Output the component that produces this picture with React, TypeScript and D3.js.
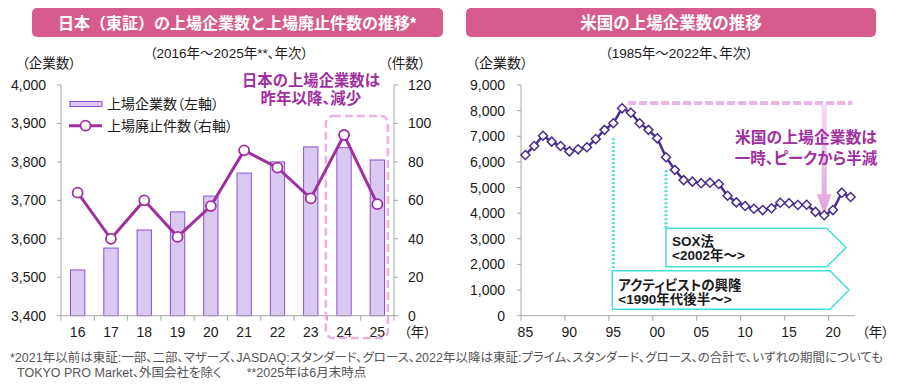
import React from 'react';
import * as d3 from 'd3';

// ---------- DATA ----------
const jpYears = ['16', '17', '18', '19', '20', '21', '22', '23', '24', '25'];
const jpListed = [3519, 3576, 3623, 3670, 3711, 3771, 3800, 3839, 3837, 3805];
const jpDelisted = [64, 40, 60, 41, 57, 86, 77, 61, 94, 58];
const jpLeftTicks = [3400, 3500, 3600, 3700, 3800, 3900, 4000];
const jpRightTicks = [0, 20, 40, 60, 80, 100, 120];

const usYears = [
  1985, 1986, 1987, 1988, 1989, 1990, 1991, 1992, 1993, 1994,
  1995, 1996, 1997, 1998, 1999, 2000, 2001, 2002, 2003, 2004,
  2005, 2006, 2007, 2008, 2009, 2010, 2011, 2012, 2013, 2014,
  2015, 2016, 2017, 2018, 2019, 2020, 2021, 2022,
];
const usListed = [
  6270, 6620, 7020, 6790, 6620, 6410, 6490, 6570, 6890, 7250,
  7510, 8090, 7920, 7510, 7250, 6920, 6180, 5690, 5290, 5230,
  5170, 5190, 5140, 4680, 4420, 4280, 4170, 4120, 4190, 4410,
  4390, 4320, 4330, 4050, 3920, 4120, 4800, 4630,
];
const usTicks = [0, 1000, 2000, 3000, 4000, 5000, 6000, 7000, 8000, 9000];
const usXLabelYears = [1985, 1990, 1995, 2000, 2005, 2010, 2015, 2020];

// ---------- STYLE ----------
const FONT = "'Liberation Sans', 'Noto Sans CJK JP', sans-serif";
const PINK = '#d75b8d';
const MAGENTA = '#a0309f';
const AXIS = '#a6a6a6';
const BAR_FILL = '#d9c9f1';
const BAR_STROKE = '#8c50d8';
const US_LINE = '#4b2d8c';
const CYAN = '#45e0d6';
const TXT = '#1a1a1a';
const PALT: React.CSSProperties = { fontFeatureSettings: '"palt"' };

const fmt = d3.format(',');

function LeftChart() {
  const x0 = 61, x1 = 394, yTop = 85, yBot = 315.7;
  const x = d3.scaleBand<string>().domain(jpYears).range([x0, x1]).paddingInner(0.57).paddingOuter(0.285);
  const yl = d3.scaleLinear().domain([3400, 4000]).range([yBot, yTop]);
  const yr = d3.scaleLinear().domain([0, 120]).range([yBot, yTop]);
  const cx = (i: number) => (x(jpYears[i]) as number) + x.bandwidth() / 2;
  const line = d3.line<number>().x((_, i) => cx(i)).y((d) => yr(d));
  const step = x.step();
  return (
    <g>
      <rect x={32} y={8} width={411} height={29} rx={5} fill={PINK} />
      <text x={237} y={23} textAnchor="middle" dominantBaseline="central" fill="#fff" fontWeight="bold" fontSize={16}>
        日本（東証）の上場企業数と上場廃止件数の推移*
      </text>
      <text x={229} y={53} textAnchor="middle" dominantBaseline="central" fontSize={13.5} fill={TXT} style={PALT}>
        （2016年～2025年**、年次）
      </text>
      <text x={22} y={63} dominantBaseline="central" fontSize={13.5} fill={TXT} style={PALT}>（企業数）</text>
      <text x={385} y={63} dominantBaseline="central" fontSize={13.5} fill={TXT} style={PALT}>（件数）</text>

      {/* bars */}
      {jpListed.map((v, i) => (
        <rect key={i} x={x(jpYears[i])} y={yl(v)} width={x.bandwidth()} height={yBot - yl(v)}
          fill={BAR_FILL} stroke={BAR_STROKE} strokeWidth={1} />
      ))}

      {/* axes */}
      <line x1={x0} x2={x0} y1={yTop} y2={yBot} stroke={AXIS} />
      <line x1={x1} x2={x1} y1={yTop} y2={yBot} stroke={AXIS} />
      <line x1={x0} x2={x1} y1={yBot} y2={yBot} stroke={AXIS} />
      {jpLeftTicks.map((t) => (
        <g key={t}>
          <line x1={x0 - 4} x2={x0} y1={yl(t)} y2={yl(t)} stroke={AXIS} />
          <text x={46} y={yl(t)} textAnchor="end" dominantBaseline="central" fontSize={14} fill={TXT}>{fmt(t)}</text>
        </g>
      ))}
      {jpRightTicks.map((t) => (
        <g key={t}>
          <line x1={x1} x2={x1 + 4} y1={yr(t)} y2={yr(t)} stroke={AXIS} />
          <text x={408} y={yr(t)} dominantBaseline="central" fontSize={14} fill={TXT}>{t}</text>
        </g>
      ))}
      {d3.range(jpYears.length + 1).map((i) => (
        <line key={i} x1={x0 + i * step} x2={x0 + i * step} y1={yBot} y2={yBot + 5} stroke={AXIS} />
      ))}
      {jpYears.map((yv, i) => (
        <text key={yv} x={cx(i)} y={332} textAnchor="middle" dominantBaseline="central" fontSize={14} fill={TXT}>{yv}</text>
      ))}
      <text x={404} y={332} dominantBaseline="central" fontSize={13.5} fill={TXT} style={PALT}>（年）</text>

      {/* dashed highlight box */}
      <rect x={(x('24') as number) - 11} y={116} width={62} height={222} rx={7}
        fill="none" stroke="#ebb2e1" strokeWidth={2.5} strokeDasharray="8,4" />

      {/* line */}
      <path d={line(jpDelisted) as string} fill="none" stroke={MAGENTA} strokeWidth={3} />
      {jpDelisted.map((v, i) => (
        <circle key={i} cx={cx(i)} cy={yr(v)} r={5} fill="#fff" stroke={MAGENTA} strokeWidth={1.8} />
      ))}

      {/* legend */}
      <rect x={70} y={101.5} width={32} height={5} fill={BAR_FILL} stroke={BAR_STROKE} strokeWidth={1} />
      <text x={107} y={104} dominantBaseline="central" fontSize={14} fill={TXT} style={PALT}>上場企業数（左軸）</text>
      <line x1={69} x2={102} y1={125.7} y2={125.7} stroke={MAGENTA} strokeWidth={3} />
      <circle cx={85.5} cy={125.7} r={5} fill="#fff" stroke={MAGENTA} strokeWidth={1.8} />
      <text x={107} y={125.7} dominantBaseline="central" fontSize={14} fill={TXT} style={PALT}>上場廃止件数（右軸）</text>

      {/* annotation */}
      <text x={311} y={80} textAnchor="middle" dominantBaseline="central" fontSize={15.5} fontWeight="bold" fill={MAGENTA} textLength={138} lengthAdjust="spacingAndGlyphs">日本の上場企業数は</text>
      <text x={311} y={98} textAnchor="middle" dominantBaseline="central" fontSize={15.5} fontWeight="bold" fill={MAGENTA} style={PALT}>昨年以降、減少</text>
    </g>
  );
}

function RightChart() {
  const x0 = 521, x1 = 855, yTop = 85, yBot = 315.7;
  const x = d3.scalePoint<number>().domain(usYears).range([x0, x1]).padding(0.5);
  const step = x.step();
  const y = d3.scaleLinear().domain([0, 9000]).range([yBot, yTop]);
  const line = d3.line<number>().x((_, i) => x(usYears[i]) as number).y((d) => y(d));
  const px = (yr: number) => x(yr) as number;
  const dashY = y(8300);
  const arrowX = px(2019);
  const tipY = y(usListed[usYears.indexOf(2019)]) - 1;
  const headTop = tipY - 20;
  const d = 4.5;
  const soxL = px(2001), actL = px(1995) - 1;
  return (
    <g>
      <defs>
        <linearGradient id="arrowGrad" x1="0" y1="0" x2="0" y2="1">
          <stop offset="0" stopColor="#f5daf2" />
          <stop offset="1" stopColor="#e2a3df" />
        </linearGradient>
      </defs>
      <rect x={466} y={8} width={410} height={29} rx={5} fill={PINK} />
      <text x={671} y={23} textAnchor="middle" dominantBaseline="central" fill="#fff" fontWeight="bold" fontSize={16.5}>
        米国の上場企業数の推移
      </text>
      <text x={679} y={53} textAnchor="middle" dominantBaseline="central" fontSize={13.5} fill={TXT} style={PALT}>
        （1985年～2022年、年次）
      </text>
      <text x={472} y={63} dominantBaseline="central" fontSize={14} fill={TXT} style={PALT}>（企業数）</text>

      {/* axes */}
      <line x1={x0} x2={x0} y1={yTop} y2={yBot} stroke={AXIS} />
      <line x1={x0} x2={x1} y1={yBot} y2={yBot} stroke={AXIS} />
      {usTicks.map((t) => (
        <g key={t}>
          <line x1={x0 - 4} x2={x0} y1={y(t)} y2={y(t)} stroke={AXIS} />
          <text x={505} y={y(t)} textAnchor="end" dominantBaseline="central" fontSize={14} fill={TXT}>{fmt(t)}</text>
        </g>
      ))}
      {d3.range(0, usYears.length, 5).map((i) => (
        <line key={i} x1={x0 + i * step} x2={x0 + i * step} y1={yBot} y2={yBot + 5} stroke={AXIS} />
      ))}
      {usXLabelYears.map((yv) => (
        <text key={yv} x={px(yv)} y={332} textAnchor="middle" dominantBaseline="central" fontSize={14} fill={TXT}>
          {String(yv % 100).padStart(2, '0')}
        </text>
      ))}
      <text x={862} y={332} dominantBaseline="central" fontSize={13.5} fill={TXT} style={PALT}>（年）</text>

      {/* cyan dotted guides */}
      <line x1={px(1995)} x2={px(1995)} y1={y(usListed[10]) + 15} y2={270.7} stroke={CYAN} strokeWidth={3} strokeDasharray="2,2" />
      <line x1={px(2001)} x2={px(2001)} y1={y(usListed[16]) + 13} y2={228.3} stroke={CYAN} strokeWidth={3} strokeDasharray="2,2" />

      {/* boxes */}
      <polygon points={`${soxL},228.3 826.7,228.3 846,247.5 826.7,266.7 ${soxL},266.7`} fill="#fff" stroke={CYAN} strokeWidth={1.5} />
      <text x={soxL + 6} y={241.7} dominantBaseline="central" fontSize={13.5} fontWeight="bold" fill={TXT}>SOX法</text>
      <text x={soxL + 6} y={255.7} dominantBaseline="central" fontSize={13.5} fontWeight="bold" fill={TXT}>&lt;2002年～&gt;</text>
      <polygon points={`${actL},270.7 830,270.7 849,290 830,309.3 ${actL},309.3`} fill="#fff" stroke={CYAN} strokeWidth={1.5} />
      <text x={actL + 6} y={285.7} dominantBaseline="central" fontSize={13.5} fontWeight="bold" fill={TXT} style={PALT}>アクティビストの興隆</text>
      <text x={actL + 6} y={299.3} dominantBaseline="central" fontSize={13.5} fontWeight="bold" fill={TXT}>&lt;1990年代後半～&gt;</text>

      {/* peak dashed line + arrow */}
      <line x1={px(1996) + 6} x2={px(2022) + 2} y1={dashY} y2={dashY} stroke="#e9b6e6" strokeWidth={4} strokeDasharray="8,3" />
      <path
        d={`M${arrowX - 2.5},${dashY + 2} L${arrowX + 2.5},${dashY + 2} L${arrowX + 2.5},${headTop} L${arrowX + 7.5},${headTop} L${arrowX},${tipY} L${arrowX - 7.5},${headTop} L${arrowX - 2.5},${headTop} Z`}
        fill="url(#arrowGrad)"
      />

      {/* line */}
      <path d={line(usListed) as string} fill="none" stroke={US_LINE} strokeWidth={2.5} />
      {usListed.map((v, i) => {
        const cx = px(usYears[i]), cy = y(v);
        return (
          <path key={i} d={`M${cx},${cy - d} L${cx + d},${cy} L${cx},${cy + d} L${cx - d},${cy} Z`}
            fill="#fff" stroke={US_LINE} strokeWidth={1.5} />
        );
      })}

      {/* annotation */}
      <text x={806} y={137} textAnchor="middle" dominantBaseline="central" fontSize={15.5} fontWeight="bold" fill={MAGENTA} textLength={142} lengthAdjust="spacingAndGlyphs">米国の上場企業数は</text>
      <text x={806} y={158} textAnchor="middle" dominantBaseline="central" fontSize={15.5} fontWeight="bold" fill={MAGENTA} style={PALT}>一時、ピークから半減</text>
    </g>
  );
}

export default function App() {
  return (
    <svg width={900} height={390} style={{ position: 'absolute', left: 0, top: 0, background: '#fff' }} fontFamily={FONT}>
      <rect x={0} y={0} width={900} height={390} fill="#fff" />
      <LeftChart />
      <RightChart />
      <text x={10} y={358} dominantBaseline="central" fontSize={12.5} fill="#555" style={PALT}>
        *2021年以前は東証:一部、二部、マザーズ、JASDAQ:スタンダード、グロース、2022年以降は東証:プライム、スタンダード、グロース、の合計で、いずれの期間についても
      </text>
      <text x={17} y={373} dominantBaseline="central" fontSize={12.5} fill="#555" style={PALT}>
        TOKYO PRO Market、外国会社を除く　　**2025年は6月末時点
      </text>
    </svg>
  );
}
